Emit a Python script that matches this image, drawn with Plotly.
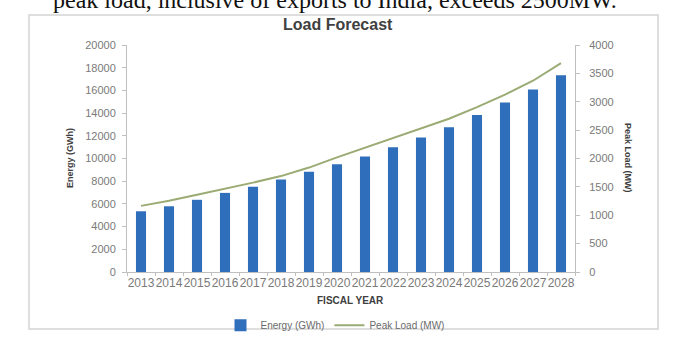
import plotly.graph_objects as go

years = ["2013", "2014", "2015", "2016", "2017", "2018", "2019", "2020",
         "2021", "2022", "2023", "2024", "2025", "2026", "2027", "2028"]
energy_gwh = [5350, 5790, 6360, 6970, 7520, 8150, 8830, 9500,
              10180, 11000, 11850, 12760, 13830, 14930, 16080, 17340]
peak_mw = [1165, 1255, 1360, 1465, 1575, 1690, 1840, 2020,
           2190, 2355, 2520, 2700, 2905, 3125, 3370, 3680]
left_ticks = [0, 2000, 4000, 6000, 8000, 10000, 12000, 14000, 16000, 18000, 20000]
right_ticks = [0, 500, 1000, 1500, 2000, 2500, 3000, 3500, 4000]

W, H = 690, 352
L, R, T, B = 127, 115, 45, 64
PW, PH = W - L - R, H - T - B


def px(x):
    return (x - L) / PW


def py(y):
    return (H - B - y) / PH


fig = go.Figure()
fig.add_trace(go.Bar(x=years, y=energy_gwh, name="Energy (GWh)",
                     marker=dict(color="#2F6EBA", line=dict(width=0)), yaxis="y"))
fig.add_trace(go.Scatter(x=years, y=peak_mw, name="Peak Load (MW)", mode="lines",
                         line=dict(color="#9AAB73", width=2), yaxis="y2"))

tickfont = dict(family="Liberation Sans, Arial", size=11, color="#7a7a7a")
fig.update_layout(
    width=W, height=H,
    margin=dict(l=L, r=R, t=T, b=B),
    paper_bgcolor="white", plot_bgcolor="white",
    bargap=0.64,
    showlegend=True,
    legend=dict(orientation="h", x=px(335), xanchor="center", y=py(345), yanchor="middle",
                font=dict(family="Liberation Sans, Arial", size=10, color="#6a6a6a"),
                bgcolor="rgba(0,0,0,0)"),
    xaxis=dict(type="category", showgrid=False, showline=True, linecolor="#bfbfbf",
               ticks="outside", tickson="boundaries", ticklen=3, tickcolor="#bfbfbf",
               tickangle=0, tickfont=dict(family="Liberation Sans, Arial", size=12, color="#7a7a7a")),
    yaxis=dict(range=[0, 20000], tickvals=left_ticks, ticktext=[str(v) for v in left_ticks],
               showgrid=False, zeroline=False,
               showline=True, linecolor="#bfbfbf", ticks="outside", ticklen=4,
               tickcolor="#bfbfbf", tickfont=tickfont, ticklabelstandoff=4),
    yaxis2=dict(range=[0, 4000], tickvals=right_ticks, ticktext=[str(v) for v in right_ticks],
                overlaying="y", side="right",
                showgrid=False, zeroline=False, showline=True, linecolor="#bfbfbf",
                ticks="outside", ticklen=4, tickcolor="#bfbfbf", tickfont=tickfont,
                ticklabelstandoff=7),
)

annos = [
    dict(text="peak load, inclusive of exports to India, exceeds 2500MW.",
         x=px(335), y=py(-3), xanchor="center", yanchor="middle",
         font=dict(family="Liberation Serif, Times New Roman", size=24, color="#111111")),
    dict(text="<b>Load Forecast</b>", x=px(338), y=py(23), xanchor="center", yanchor="middle",
         font=dict(family="Liberation Sans, Arial", size=16, color="#404040")),
    dict(text="<b>FISCAL YEAR</b>", x=px(350), y=py(318), xanchor="center", yanchor="middle",
         font=dict(family="Liberation Sans, Arial", size=10, color="#404040")),
    dict(text="<b>Energy (GWh)</b>", x=px(70), y=py(166), xanchor="center", yanchor="middle",
         textangle=-90, font=dict(family="Liberation Sans, Arial", size=9, color="#404040")),
    dict(text="<b>Peak Load (MW)</b>", x=px(628), y=py(166), xanchor="center", yanchor="middle",
         textangle=90, font=dict(family="Liberation Sans, Arial", size=9, color="#404040")),
]
for a in annos:
    a.update(xref="paper", yref="paper", showarrow=False)
fig.update_layout(annotations=annos)

fig.add_shape(type="rect", xref="paper", yref="paper",
              x0=px(29), x1=px(658), y0=py(349), y1=py(13),
              line=dict(color="#d4d4d4", width=1.5), fillcolor="rgba(0,0,0,0)", layer="below")

fig.write_html("out.html")
